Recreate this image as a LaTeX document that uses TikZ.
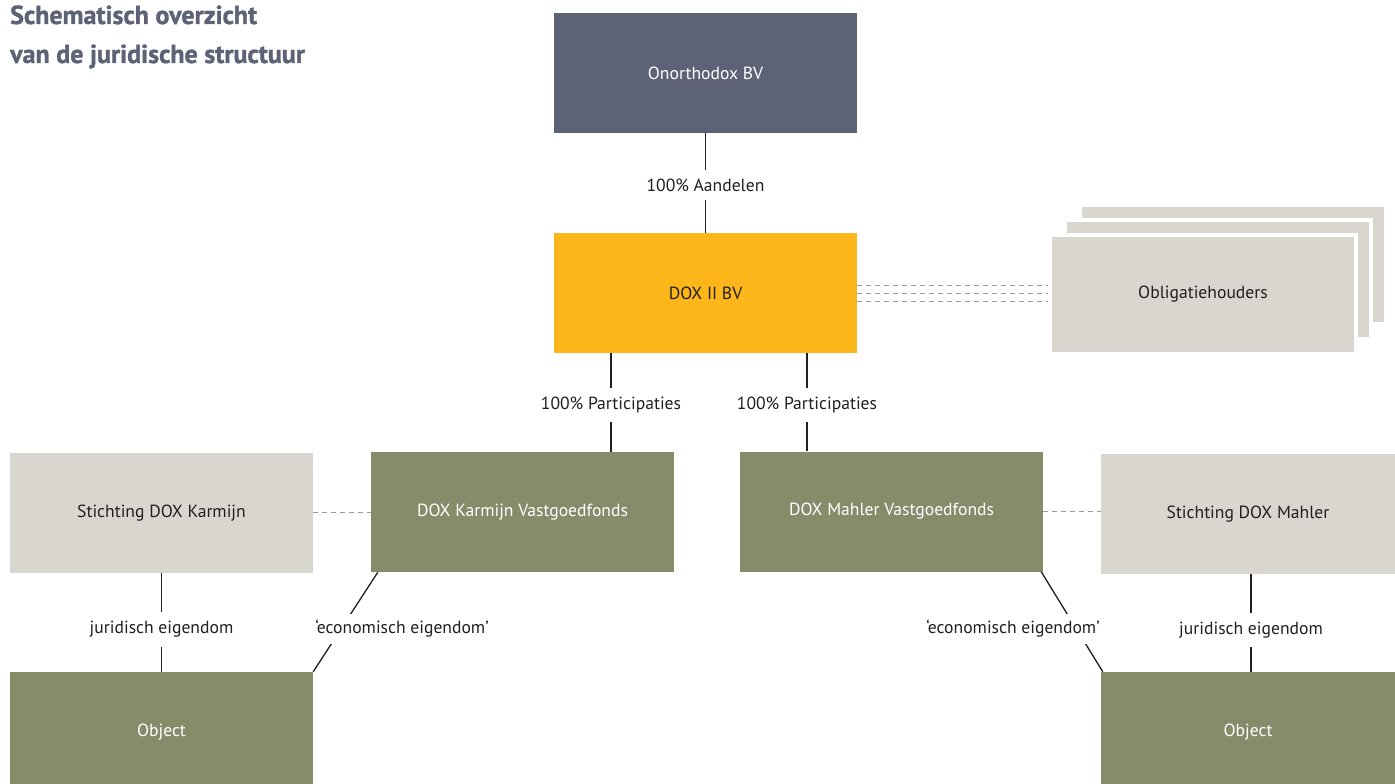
\documentclass[tikz,border=0pt]{standalone}
\usepackage{fontspec}
\setmainfont{PT Sans}
\newfontfamily\titelfont{PT Sans Bold}[FakeBold=1.3]
\usetikzlibrary{positioning}
\definecolor{leisteen}{HTML}{5D6277}
\definecolor{oker}{HTML}{FDB71A}
\definecolor{olijf}{HTML}{858C6A}
\definecolor{zand}{HTML}{D9D6D0}
\definecolor{inkt}{HTML}{231F20}
\definecolor{streepgrijs}{HTML}{9C9A9B}

\begin{document}
\begin{tikzpicture}[x=1pt,y=-1pt,
  blok/.style={minimum width=303pt,minimum height=120pt,inner sep=0pt,
    font=\fontsize{17.6}{20}\selectfont},
  donker/.style={blok,fill=#1,text=white},
  licht/.style={blok,fill=#1,text=inkt},
  lijn/.style={draw=inkt,line width=1.3pt},
  label/.style={fill=white,inner xsep=3pt,inner ysep=9pt,text=inkt,
    font=\fontsize{17.6}{20}\selectfont},
  streep/.style={draw=streepgrijs,line width=1pt,dash pattern=on 5pt off 4pt},
  titel/.style={anchor=base west,inner sep=0pt,text=leisteen,
    font=\fontsize{26}{30}\titelfont}]
\useasboundingbox (0,0) rectangle (1395,784);

% titel
\node [titel] (t1) at (10,24) {Schematisch overzicht};
\node [titel] (t2) at (10,63) {van de juridische structuur};

% bovenste lagen
\node [donker=leisteen] (onx) at (705.5,73) {Onorthodox BV};
\node [licht=oker] (dox) at (705.5,293) {DOX II BV};

% stapel obligatiehouders
\foreach \k in {2,1}
  \draw [fill=zand,draw=white,line width=4pt] (1050+15*\k,235-15*\k) rectangle +(306,119);
\node [licht=zand,draw=white,line width=4pt,minimum width=306pt,minimum height=119pt]
  (obl) at (1203,294.5) {Obligatiehouders};

% fondsen en stichtingen
\node [donker=olijf] (kv) at (522.5,512) {DOX Karmijn Vastgoedfonds};
\node [donker=olijf] (mv) at (891.5,511.5) {DOX Mahler Vastgoedfonds};
\node [licht=zand] (ks) at (161.5,513) {Stichting DOX Karmijn};
\node [licht=zand,minimum width=294pt] (ms) at (1248,514) {Stichting DOX Mahler};

% objecten
\node [donker=olijf] (ko) at (161.5,732) {Object};
\node [donker=olijf,minimum width=294pt] (mo) at (1248,732) {Object};

% verbindingen
\draw [lijn] (onx.south) -- (dox.north)
  node [label,pos=0.52] {100\% Aandelen};
\draw [lijn] (dox.south -| 611,0) -- (kv.north -| 611,0)
  node [label,pos=0.53] {100\% Participaties};
\draw [lijn] (dox.south -| 807,0) -- (mv.north -| 807,0)
  node [label,pos=0.53] {100\% Participaties};
\draw [lijn] (ks.south) -- (ko.north)
  node [label,pos=0.57] {juridisch eigendom};
\draw [lijn] (ms.south -| 1251,0) -- (mo.north -| 1251,0)
  node [label,pos=0.57] {juridisch eigendom};

\draw [lijn] ([xshift=7pt]kv.south west) -- (ko.north east);
\node [label,inner ysep=6pt] (ke) at (402,629) {‘economisch eigendom’};
\draw [lijn] ([xshift=-2pt]mv.south east) -- ([xshift=2pt]mo.north west);
\node [label,inner ysep=6pt] (me) at (1013,629) {‘economisch eigendom’};

% stippellijnen
\foreach \dy in {-8,0,8}
  \draw [streep] ([yshift=\dy pt]dox.east) -- ([yshift=\dy pt]dox.east -| obl.west);
\draw [streep] (ks.east |- kv.west) -- (kv.west);
\draw [streep] (mv.east) -- (ms.west |- mv.east);

\end{tikzpicture}
\end{document}
